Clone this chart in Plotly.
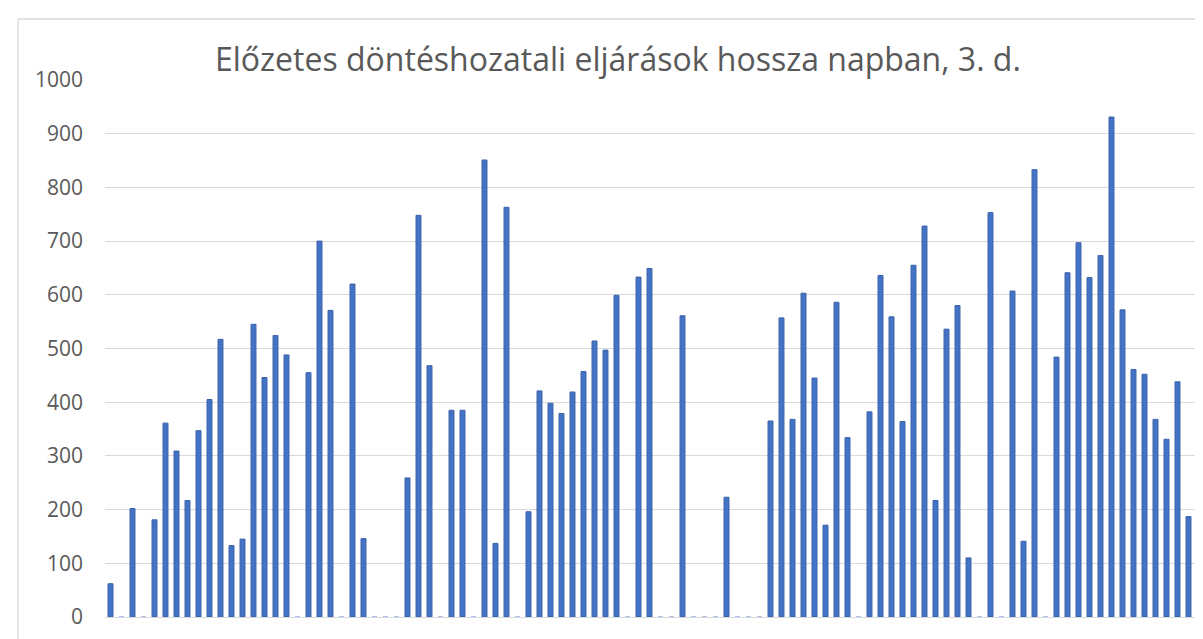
import plotly.graph_objects as go

# Eljárások (sorszám) és hosszuk napban
cases = [str(i) for i in range(1, 101)]
days = [
    62, 0, 202, 0, 181, 361, 309, 217, 347, 405,
    517, 133, 145, 545, 446, 524, 488, 0, 455, 700,
    571, 0, 620, 146, 0, 0, 0, 259, 748, 468,
    0, 385, 385, 0, 851, 137, 763, 0, 196, 421,
    398, 379, 419, 457, 514, 497, 599, 0, 633, 649,
    0, 0, 561, 0, 0, 0, 223, 0, 0, 0,
    365, 557, 368, 603, 445, 171, 586, 334, 0, 382,
    636, 559, 364, 655, 728, 217, 536, 580, 110, 0,
    753, 0, 607, 141, 833, 0, 484, 641, 697, 632,
    673, 931, 572, 461, 452, 368, 331, 438, 187, 0,
]
y_ticks = [0, 100, 200, 300, 400, 500, 600, 700, 800, 900, 1000]
title_text = "Előzetes döntéshozatali eljárások hossza napban, 3. d."

W, H = 1203, 639
L, R, T, B = 97, 6, 72, 30
PW, PH = W - L - R, H - T - B

line_colors = ["#8FAADC" if v == 0 else "#3A62AB" for v in days]

fig = go.Figure(go.Bar(
    x=cases, y=days,
    marker=dict(color="#4472C4", line=dict(color=line_colors, width=1)),
    width=0.45,
    hoverinfo="x+y",
))

fig.update_layout(
    width=W, height=H,
    margin=dict(l=L, r=R, t=T, b=B),
    paper_bgcolor="white", plot_bgcolor="white",
    showlegend=False,
    bargap=0.55,
    font=dict(family="Open Sans, Noto Sans, sans-serif", color="#595959"),
    xaxis=dict(showticklabels=False, showgrid=False, zeroline=False,
               showline=False, ticks="", range=[-0.5, 99.5]),
    yaxis=dict(range=[0, 1000], tickvals=y_ticks, showgrid=True,
               gridcolor="#D9D9D9", gridwidth=1.3, zeroline=True,
               zerolinecolor="#D9D9D9", zerolinewidth=1.3,
               showline=False, ticks="", ticklabelstandoff=21,
               tickfont=dict(size=21, color="#595959")),
    annotations=[dict(
        text=title_text, xref="paper", yref="paper",
        x=(610 - L) / PW, y=(H - B - 74) / PH,
        xanchor="center", yanchor="bottom", showarrow=False,
        font=dict(size=32, color="#595959", family="Open Sans, Noto Sans, sans-serif"),
    )],
    shapes=[dict(type="rect", xref="paper", yref="paper",
                 x0=(10 - L) / PW, x1=(1230 - L) / PW,
                 y0=-(660 - (H - B)) / PH, y1=1 + (72 - 11) / PH,
                 line=dict(color="#D9D9D9", width=1.3), layer="below")],
)

fig.write_html("out.html")
